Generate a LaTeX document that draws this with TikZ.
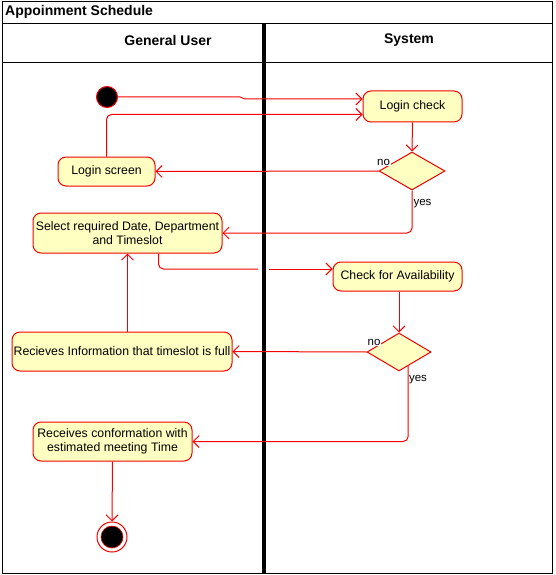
\documentclass[tikz,border=0pt]{standalone}
\usepackage{fontspec}
\setmainfont{Liberation Sans}
\usetikzlibrary{arrows.meta, shapes.geometric}
\definecolor{actfill}{RGB}{255,255,194}
\definecolor{actline}{RGB}{245,0,0}

\begin{document}
\begin{tikzpicture}[x=1pt, y=-1pt, font=\fontsize{12.3}{14}\selectfont,
	activity/.style={draw=actline, fill=actfill, rounded corners=8pt, line width=1pt, align=center, inner sep=0pt},
	decision/.style={draw=actline, fill=actfill, diamond, line width=1pt, inner sep=0pt, minimum width=66pt, minimum height=38pt},
	flow/.style={draw=actline, line width=1pt, rounded corners=5pt, -{Straight Barb[length=6pt,width=12pt]}},
	guard/.style={font=\fontsize{11.5}{13}\selectfont, fill=white, inner sep=1pt},
	lane/.style={font=\bfseries\fontsize{14}{16}\selectfont}]
		\useasboundingbox (0,0) rectangle (555,575);
		\draw[line width=1pt] (2,2) rectangle (552,573);
		\draw[line width=1pt] (2,24) -- (552,24);
		\draw[line width=1pt] (2,63) -- (552,63);
		\draw[line width=4pt] (264,23) -- (264,573);
		\node[lane, anchor=west, inner sep=0pt] (title) at (5,12) {Appoinment Schedule};
		\node[lane] (user) at (168,40) {General User};
		\node[lane] (sys) at (409,40) {System};
		
		\node[circle, draw=actline, fill=black, line width=1pt, minimum size=21pt, inner sep=0pt] (start) at (107,97) {};
		\node[activity, minimum width=99pt, minimum height=31pt] (login) at (412.5,106.5) {Login check};
		\node[decision] (dec1) at (412,171) {};
		\node[activity, minimum width=97pt, minimum height=29pt] (screen) at (106.5,171.5) {Login screen};
		\node[activity, minimum width=189pt, minimum height=40pt] (select) at (127.5,233) {Select required Date, Department\\and Timeslot};
		\node[activity, minimum width=129pt, minimum height=29pt] (avail) at (397.5,276.5) {Check for Availability};
		\node[decision, minimum width=64pt] (dec2) at (399,352) {};
		\node[activity, minimum width=220pt, minimum height=39pt] (full) at (122,351.5) {Recieves Information that timeslot is full};
		\node[activity, minimum width=159pt, minimum height=39pt] (confirm) at (112.5,441.5) {Receives conformation with\\estimated meeting Time};
		\node[circle, draw=actline, fill=white, line width=1pt, minimum size=30pt, inner sep=0pt] (end) at (112,537) {};
		\node[circle, draw=actline, fill=black, line width=0.6pt, minimum size=22pt, inner sep=0pt] (endin) at (112,537) {};
		\coordinate (gapL) at (258,269);
		\coordinate (gapR) at (269,269);
		
		\draw[flow, rounded corners=0pt] (start) -- (240,97) -- (245,99) -- (login.west |- 245,99);
		\draw[flow] (screen.north) |- ([yshift=-8pt]login.west);
		\draw[flow] (login.south) -- (dec1.north);
		\draw[flow] (dec1.west) -- (screen.east);
		\draw[flow] (dec1.south) |- (select.east);
		\draw[flow, -] ([xshift=31pt]select.south) |- (gapL);
		\draw[flow] (gapR) -- (avail.west |- gapR);
		\draw[flow] (dec2.north |- avail.south) -- (dec2.north);
		\draw[flow] (dec2.west) -- (full.east);
		\draw[flow] (select.south |- full.north) -- (select.south);
		\draw[flow] (dec2.-57) |- (confirm.east);
		\draw[flow] (confirm.south) -- (end.north);
		
		\node[guard] (no1) at (383.5,162) {no};
		\node[guard] (no2) at (374,342) {no};
		\node[guard, fill=none] (yes1) at (422.5,204) {yes};
		\node[guard, fill=none] (yes2) at (418,380) {yes};
		
		\end{tikzpicture}
\end{document}
